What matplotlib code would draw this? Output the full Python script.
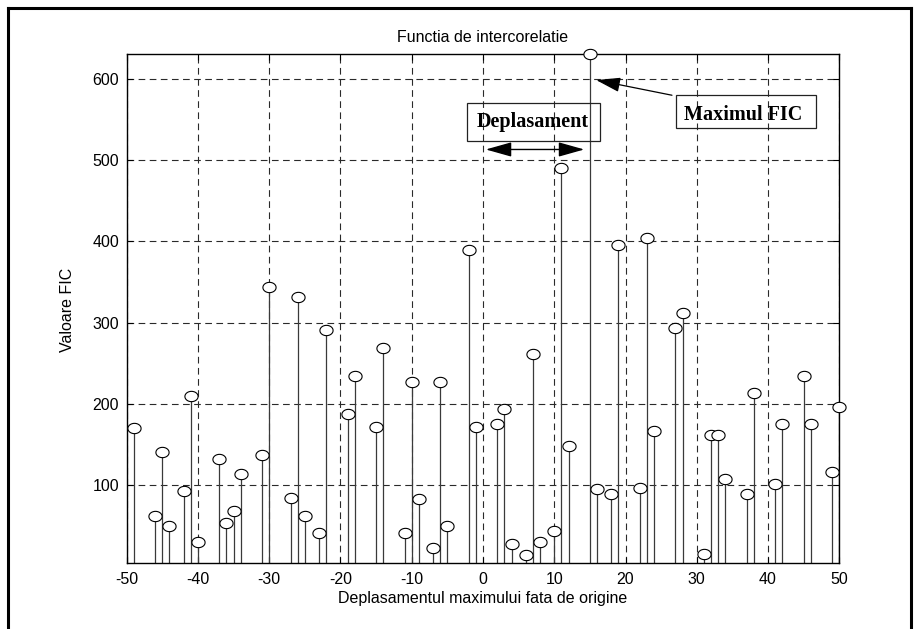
import numpy as np
import matplotlib
matplotlib.use('Agg')
from matplotlib import pyplot as plt
from matplotlib.patches import Rectangle, FancyArrowPatch
from matplotlib.lines import Line2D

# lag positions and cross-correlation values
lags = [-49, -46, -45, -44, -42, -41, -40, -37, -36, -35, -34, -31, -30,
        -27, -26, -25, -23, -22, -19, -18, -15, -14, -11, -10, -9, -7, -6,
        -5, -2, -1, 2, 3, 4, 6, 7, 8, 10, 11, 12, 15, 16, 18, 19, 22, 23,
        24, 27, 28, 31, 32, 33, 34, 37, 38, 41, 42, 45, 46, 49, 50]
fic = [170, 63, 141, 50, 93, 210, 31, 132, 54, 68, 114, 138, 344,
       85, 332, 63, 42, 291, 188, 234, 172, 269, 42, 227, 83, 23, 227,
       50, 390, 172, 175, 194, 28, 14, 262, 31, 44, 490, 149, 630, 95,
       89, 396, 97, 404, 167, 294, 312, 16, 162, 162, 108, 89, 214,
       102, 175, 234, 175, 116, 197]

x_ticks = [-50, -40, -30, -20, -10, 0, 10, 20, 30, 40, 50]
y_ticks = [100, 200, 300, 400, 500, 600]

title = 'Functia de intercorelatie'
xlabel = 'Deplasamentul maximului fata de origine'
ylabel = 'Valoare FIC'

plt.rcParams['font.family'] = ['Liberation Sans', 'DejaVu Sans']
plt.rcParams['axes.unicode_minus'] = False

W, H = 919, 629
fig = plt.figure(figsize=(W / 100, H / 100), dpi=100)
ax = fig.add_axes([126.7 / W, 1 - 562.7 / H, 712.6 / W, 508.4 / H])

# slightly wide open circle, like the scanned matlab markers
t = np.linspace(0, 2 * np.pi, 61)
ellipse = list(zip(np.cos(t), 0.78 * np.sin(t)))

markerline, stemlines, baseline = ax.stem(lags, fic, basefmt=' ')
plt.setp(stemlines, color='#3a3a3a', linewidth=0.9)
plt.setp(markerline, marker=ellipse, markersize=9.5, markerfacecolor='white',
         markeredgecolor='black', markeredgewidth=0.8, zorder=3,
         clip_on=False)

ax.set_xlim(-50, 50)
ax.set_ylim(5, 630)
ax.set_xticks(x_ticks)
ax.set_yticks(y_ticks)
ax.grid(True, color='#2a2a2a', linestyle=(0, (6, 4)), linewidth=0.8)
ax.set_axisbelow(True)
ax.tick_params(direction='in', length=4, width=0.8, top=True, right=True,
               labelsize=11.5, colors='black')
ax.tick_params(axis='x', pad=7)
ax.tick_params(axis='y', pad=5.5)
for s in ax.spines.values():
    s.set_linewidth(1.0)
    s.set_color('black')

fig.text(483 / W, 1 - 37 / H, title, ha='center', va='center', fontsize=11.5)
fig.text(483 / W, 1 - 598 / H, xlabel, ha='center', va='center', fontsize=11.5)
fig.text(67.5 / W, 1 - 310 / H, ylabel, ha='center', va='center',
         rotation=90, fontsize=11.5)

# annotation boxes
serif = dict(family=['Liberation Serif', 'DejaVu Serif'], weight='bold',
             fontsize=14.5)
ax.add_patch(Rectangle((-2.25, 524), 18.65, 46.4, fill=False,
                       edgecolor='#222222', linewidth=0.9, zorder=4))
ax.text(7.0, 547, 'Deplasament', ha='center', va='center', zorder=5, **serif)
ax.add_patch(FancyArrowPatch((0, 513), (14.6, 513),
                             arrowstyle='<|-|>,head_length=1.6,head_width=0.45',
                             mutation_scale=10, color='black',
                             linewidth=1.0, zorder=5))

ax.add_patch(Rectangle((27.1, 539.7), 19.7, 39.7, fill=False,
                       edgecolor='#222222', linewidth=0.9, zorder=4))
ax.text(36.5, 555, 'Maximul FIC', ha='center', va='center', zorder=5, **serif)
ax.add_patch(FancyArrowPatch((26.9, 579), (15.5, 599),
                             arrowstyle='-|>,head_length=1.5,head_width=0.45',
                             mutation_scale=10, color='black',
                             linewidth=0.9, zorder=5))

# outer frame of the scanned page
for xs, ys in [([8, 8], [8, H]), ([8, 911], [8, 8]), ([911, 911], [8, H])]:
    fig.add_artist(Line2D([x / W for x in xs], [1 - y / H for y in ys],
                          color='black', linewidth=2.2))

fig.savefig('out.png', dpi=100)
